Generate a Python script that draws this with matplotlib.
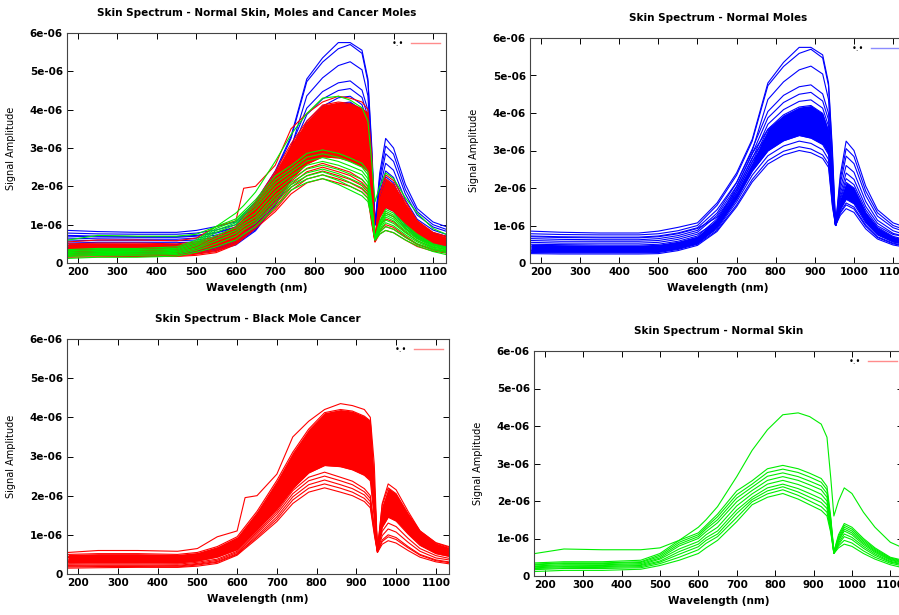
import numpy as np
import matplotlib
matplotlib.use("Agg")
import matplotlib.pyplot as plt
from matplotlib.lines import Line2D

wl = [175, 250, 350, 450, 500, 550, 600, 620, 650, 700, 740, 780, 820,
      860, 890, 920, 935, 945, 953, 965, 980, 1000, 1030, 1060, 1100, 1133]

# signal amplitudes in units of 1e-6
moles = [
    [0.85, 0.82, 0.80, 0.80, 0.85, 0.95, 1.07, 1.28, 1.60, 2.40, 3.30, 4.80, 5.35, 5.75, 5.75, 5.55, 4.80, 3.00, 1.00, 2.35, 3.25, 3.00, 2.05, 1.42, 1.07, 0.95],
    [0.78, 0.76, 0.75, 0.75, 0.78, 0.86, 1.00, 1.22, 1.54, 2.34, 3.25, 4.73, 5.24, 5.59, 5.70, 5.47, 4.73, 2.85, 1.00, 2.23, 3.05, 2.84, 1.92, 1.34, 1.00, 0.88],
    [0.72, 0.70, 0.69, 0.69, 0.72, 0.80, 0.94, 1.13, 1.42, 2.15, 2.99, 4.36, 4.83, 5.15, 5.25, 5.04, 4.36, 2.63, 1.00, 2.11, 2.85, 2.65, 1.80, 1.25, 0.94, 0.83],
    [0.65, 0.63, 0.62, 0.62, 0.65, 0.73, 0.87, 1.05, 1.33, 2.14, 3.04, 4.04, 4.47, 4.70, 4.75, 4.51, 3.99, 2.38, 1.00, 1.96, 2.60, 2.42, 1.64, 1.14, 0.86, 0.75],
    [0.60, 0.58, 0.58, 0.58, 0.60, 0.68, 0.82, 1.00, 1.27, 2.05, 2.91, 3.87, 4.28, 4.50, 4.55, 4.32, 3.82, 2.28, 1.00, 1.84, 2.40, 2.23, 1.51, 1.06, 0.79, 0.70],
    [0.70, 0.68, 0.67, 0.67, 0.70, 0.78, 0.92, 1.04, 1.22, 1.96, 2.78, 3.70, 4.09, 4.31, 4.35, 4.13, 3.65, 2.18, 1.00, 1.75, 2.25, 2.09, 1.42, 0.99, 0.76, 0.70],
    [0.50, 0.49, 0.48, 0.48, 0.50, 0.58, 0.72, 0.90, 1.18, 1.89, 2.69, 3.57, 3.95, 4.16, 4.20, 3.99, 3.53, 2.10, 1.00, 1.69, 2.15, 2.00, 1.35, 0.95, 0.71, 0.62],
    [0.45, 0.44, 0.43, 0.43, 0.45, 0.53, 0.67, 0.85, 1.13, 2.03, 2.92, 3.56, 3.89, 4.05, 3.97, 3.77, 3.44, 2.03, 1.00, 1.63, 2.05, 1.91, 1.29, 0.90, 0.68, 0.59],
    [0.55, 0.53, 0.53, 0.53, 0.55, 0.63, 0.77, 0.90, 1.09, 1.95, 2.81, 3.43, 3.74, 3.90, 3.82, 3.63, 3.32, 1.95, 1.00, 1.57, 1.95, 1.81, 1.23, 0.86, 0.64, 0.57],
    [0.40, 0.39, 0.38, 0.38, 0.40, 0.48, 0.62, 0.79, 1.05, 1.88, 2.70, 3.30, 3.60, 3.75, 3.68, 3.49, 3.19, 1.88, 1.00, 1.54, 1.90, 1.77, 1.20, 0.84, 0.63, 0.55],
    [0.35, 0.34, 0.34, 0.34, 0.35, 0.43, 0.57, 0.75, 1.01, 1.80, 2.59, 3.17, 3.46, 3.60, 3.53, 3.35, 3.06, 1.80, 1.00, 1.48, 1.80, 1.67, 1.13, 0.79, 0.59, 0.52],
    [0.30, 0.29, 0.29, 0.29, 0.30, 0.38, 0.52, 0.69, 0.95, 1.70, 2.45, 2.99, 3.26, 3.40, 3.33, 3.16, 2.89, 1.70, 1.00, 1.42, 1.70, 1.58, 1.07, 0.75, 0.56, 0.49],
    [0.33, 0.32, 0.32, 0.32, 0.33, 0.41, 0.55, 0.69, 0.91, 1.63, 2.34, 2.86, 3.12, 3.25, 3.19, 3.02, 2.76, 1.63, 1.00, 1.36, 1.60, 1.49, 1.01, 0.70, 0.53, 0.46],
    [0.28, 0.27, 0.27, 0.27, 0.28, 0.36, 0.50, 0.65, 0.87, 1.55, 2.23, 2.73, 2.98, 3.10, 3.04, 2.88, 2.64, 1.55, 1.00, 1.33, 1.55, 1.44, 0.98, 0.68, 0.51, 0.45],
    [0.25, 0.24, 0.24, 0.24, 0.25, 0.33, 0.47, 0.62, 0.84, 1.50, 2.16, 2.64, 2.88, 3.00, 2.94, 2.79, 2.55, 1.50, 1.00, 1.27, 1.45, 1.35, 0.91, 0.64, 0.48, 0.42],
]

cancer = [
    [0.55, 0.60, 0.60, 0.58, 0.65, 0.95, 1.10, 1.95, 2.00, 2.55, 3.50, 3.90, 4.20, 4.35, 4.30, 4.20, 4.00, 2.80, 0.60, 1.80, 2.30, 2.15, 1.60, 1.10, 0.80, 0.70],
    [0.50, 0.52, 0.52, 0.50, 0.55, 0.70, 0.95, 1.21, 1.60, 2.39, 3.11, 3.70, 4.12, 4.20, 4.16, 4.03, 3.91, 2.35, 0.60, 1.76, 2.20, 2.05, 1.54, 1.10, 0.79, 0.68],
    [0.45, 0.46, 0.46, 0.45, 0.50, 0.65, 0.85, 1.12, 1.52, 2.28, 2.96, 3.52, 3.92, 4.00, 3.96, 3.84, 3.72, 2.23, 0.60, 1.64, 2.05, 1.91, 1.44, 1.03, 0.74, 0.64],
    [0.42, 0.43, 0.43, 0.42, 0.47, 0.60, 0.80, 1.06, 1.44, 2.17, 2.81, 3.34, 3.72, 3.80, 3.76, 3.65, 3.53, 2.12, 0.60, 1.57, 1.95, 1.81, 1.37, 0.98, 0.70, 0.60],
    [0.38, 0.39, 0.39, 0.38, 0.43, 0.55, 0.75, 1.03, 1.44, 2.12, 2.81, 3.31, 3.56, 3.53, 3.42, 3.24, 3.06, 1.84, 0.60, 1.48, 1.85, 1.72, 1.30, 0.93, 0.67, 0.57],
    [0.35, 0.36, 0.36, 0.35, 0.40, 0.50, 0.70, 0.96, 1.36, 2.01, 2.65, 3.13, 3.37, 3.33, 3.23, 3.06, 2.89, 1.73, 0.60, 1.40, 1.75, 1.63, 1.23, 0.88, 0.63, 0.54],
    [0.32, 0.33, 0.33, 0.32, 0.37, 0.47, 0.67, 0.91, 1.28, 1.89, 2.50, 2.94, 3.17, 3.14, 3.04, 2.88, 2.72, 1.63, 0.60, 1.34, 1.65, 1.53, 1.16, 0.83, 0.59, 0.51],
    [0.30, 0.31, 0.31, 0.30, 0.35, 0.45, 0.65, 0.87, 1.20, 1.77, 2.34, 2.76, 2.97, 2.94, 2.85, 2.70, 2.55, 1.53, 0.60, 1.27, 1.55, 1.44, 1.09, 0.78, 0.56, 0.48],
    [0.28, 0.29, 0.29, 0.28, 0.33, 0.43, 0.62, 0.82, 1.12, 1.65, 2.18, 2.58, 2.77, 2.74, 2.66, 2.52, 2.38, 1.43, 0.60, 1.19, 1.45, 1.35, 1.02, 0.73, 0.52, 0.45],
    [0.25, 0.26, 0.26, 0.25, 0.30, 0.38, 0.58, 0.78, 1.07, 1.59, 2.13, 2.47, 2.60, 2.47, 2.37, 2.18, 2.00, 1.20, 0.58, 1.09, 1.30, 1.21, 0.91, 0.65, 0.47, 0.40],
    [0.22, 0.23, 0.23, 0.22, 0.27, 0.35, 0.55, 0.74, 1.03, 1.53, 2.05, 2.38, 2.50, 2.38, 2.28, 2.10, 1.93, 1.16, 0.57, 0.98, 1.15, 1.07, 0.81, 0.58, 0.41, 0.36],
    [0.20, 0.21, 0.21, 0.20, 0.25, 0.32, 0.52, 0.70, 0.98, 1.46, 1.97, 2.28, 2.40, 2.28, 2.18, 2.02, 1.85, 1.11, 0.56, 0.87, 1.00, 0.93, 0.70, 0.50, 0.36, 0.31],
    [0.18, 0.19, 0.19, 0.18, 0.23, 0.30, 0.50, 0.68, 0.94, 1.40, 1.89, 2.19, 2.30, 2.19, 2.09, 1.93, 1.77, 1.06, 0.55, 0.83, 0.95, 0.88, 0.67, 0.48, 0.34, 0.29],
    [0.15, 0.16, 0.17, 0.17, 0.20, 0.27, 0.48, 0.65, 0.90, 1.34, 1.80, 2.09, 2.20, 2.09, 2.00, 1.85, 1.69, 1.01, 0.55, 0.76, 0.85, 0.79, 0.60, 0.43, 0.31, 0.26],
]

skin = [
    [0.60, 0.72, 0.70, 0.70, 0.75, 0.95, 1.30, 1.50, 1.85, 2.65, 3.35, 3.90, 4.30, 4.35, 4.25, 4.05, 3.70, 2.60, 1.60, 2.00, 2.35, 2.20, 1.70, 1.30, 0.90, 0.75],
    [0.35, 0.38, 0.38, 0.42, 0.60, 0.95, 1.15, 1.35, 1.65, 2.27, 2.54, 2.86, 2.95, 2.86, 2.74, 2.60, 2.39, 1.55, 0.65, 1.10, 1.40, 1.30, 1.00, 0.75, 0.50, 0.42],
    [0.32, 0.35, 0.35, 0.38, 0.56, 0.90, 1.10, 1.30, 1.58, 2.17, 2.45, 2.76, 2.85, 2.76, 2.64, 2.50, 2.30, 1.50, 0.64, 1.05, 1.35, 1.25, 0.96, 0.72, 0.48, 0.40],
    [0.30, 0.33, 0.33, 0.36, 0.52, 0.85, 1.05, 1.25, 1.50, 2.08, 2.37, 2.66, 2.75, 2.65, 2.53, 2.40, 2.20, 1.45, 0.63, 1.00, 1.30, 1.20, 0.92, 0.69, 0.46, 0.38],
    [0.27, 0.30, 0.30, 0.33, 0.48, 0.80, 1.00, 1.18, 1.42, 1.98, 2.28, 2.55, 2.65, 2.55, 2.43, 2.30, 2.10, 1.40, 0.62, 0.96, 1.25, 1.15, 0.88, 0.66, 0.44, 0.36],
    [0.25, 0.27, 0.28, 0.30, 0.45, 0.72, 0.92, 1.10, 1.30, 1.87, 2.19, 2.45, 2.55, 2.44, 2.32, 2.18, 2.00, 1.35, 0.62, 0.93, 1.20, 1.10, 0.84, 0.63, 0.42, 0.34],
    [0.22, 0.25, 0.25, 0.28, 0.40, 0.65, 0.85, 1.02, 1.20, 1.76, 2.10, 2.35, 2.45, 2.33, 2.20, 2.06, 1.90, 1.30, 0.61, 0.88, 1.12, 1.03, 0.79, 0.59, 0.39, 0.32],
    [0.20, 0.22, 0.23, 0.25, 0.37, 0.58, 0.78, 0.95, 1.12, 1.67, 2.04, 2.27, 2.38, 2.24, 2.10, 1.96, 1.80, 1.25, 0.60, 0.84, 1.05, 0.97, 0.74, 0.55, 0.37, 0.30],
    [0.17, 0.20, 0.20, 0.22, 0.33, 0.50, 0.70, 0.87, 1.05, 1.56, 1.98, 2.19, 2.30, 2.15, 2.00, 1.85, 1.70, 1.20, 0.60, 0.80, 0.95, 0.88, 0.67, 0.50, 0.34, 0.27],
    [0.12, 0.15, 0.15, 0.18, 0.28, 0.42, 0.60, 0.75, 0.95, 1.45, 1.90, 2.10, 2.20, 2.05, 1.90, 1.75, 1.60, 1.15, 0.60, 0.75, 0.85, 0.79, 0.60, 0.45, 0.30, 0.22],
]

BLUE = "#0000ff"
RED = "#ff0000"
GREEN = "#00ee00"

ytick_vals = [0, 1e-6, 2e-6, 3e-6, 4e-6, 5e-6, 6e-6]
ytick_labels = ["0", "1e-06", "2e-06", "3e-06", "4e-06", "5e-06", "6e-06"]
xtick_vals = [200, 300, 400, 500, 600, 700, 800, 900, 1000, 1100]


def draw_group(ax, curves, color, dense=None):
    x = np.array(wl)
    c = np.array(curves) * 1e-6
    if dense is not None:
        # the dense middle of the bundle shows as solid colour
        ax.fill_between(x, c[dense[0]], c[dense[1]], color=color, lw=0, zorder=2)
    for row in c:
        ax.plot(x, row, color=color, lw=0.8, zorder=2)


def style(ax, title, key_color):
    ax.set_xlim(172, 1133)
    ax.set_ylim(0, 6e-6)
    ax.set_xticks(xtick_vals)
    ax.set_yticks(ytick_vals)
    ax.set_yticklabels(ytick_labels)
    ax.tick_params(direction="in", top=True, right=True, length=4, width=0.7,
                   labelsize=7.5, pad=3)
    for lab in ax.get_xticklabels() + ax.get_yticklabels():
        lab.set_fontweight("bold")
    for s in ax.spines.values():
        s.set_linewidth(0.8)
        s.set_color("#444444")
    ax.set_title(title, fontsize=7.5, fontweight="bold", pad=12)
    ax.set_xlabel("Wavelength (nm)", fontsize=7.5, fontweight="bold", labelpad=4)
    ax.set_ylabel("Signal Amplitude", fontsize=7, labelpad=10)
    h = Line2D([], [], color=key_color, lw=1, alpha=0.45)
    ax.legend([h], ["\u2022.\u2022"], loc="upper right", frameon=False,
              markerfirst=False, fontsize=6, handlelength=3.5,
              borderaxespad=0.3)


fig = plt.figure(figsize=(8.99, 6.15), dpi=100)

ax1 = fig.add_axes([67 / 899, 352 / 615, 379 / 899, 230 / 615])
draw_group(ax1, moles, BLUE, dense=(6, 11))
draw_group(ax1, cancer, RED, dense=(8, 1))
draw_group(ax1, skin, GREEN)
style(ax1, "Skin Spectrum - Normal Skin, Moles and Cancer Moles", RED)

ax2 = fig.add_axes([530 / 899, 352 / 615, 376 / 899, 225 / 615])
draw_group(ax2, moles, BLUE, dense=(6, 11))
style(ax2, "Skin Spectrum - Normal Moles", BLUE)

ax3 = fig.add_axes([67 / 899, 41 / 615, 382 / 899, 235 / 615])
draw_group(ax3, cancer, RED, dense=(8, 1))
style(ax3, "Skin Spectrum - Black Mole Cancer", RED)

ax4 = fig.add_axes([534 / 899, 39 / 615, 369 / 899, 225 / 615])
draw_group(ax4, skin, GREEN)
style(ax4, "Skin Spectrum - Normal Skin", RED)

fig.savefig("out.png", dpi=100)
